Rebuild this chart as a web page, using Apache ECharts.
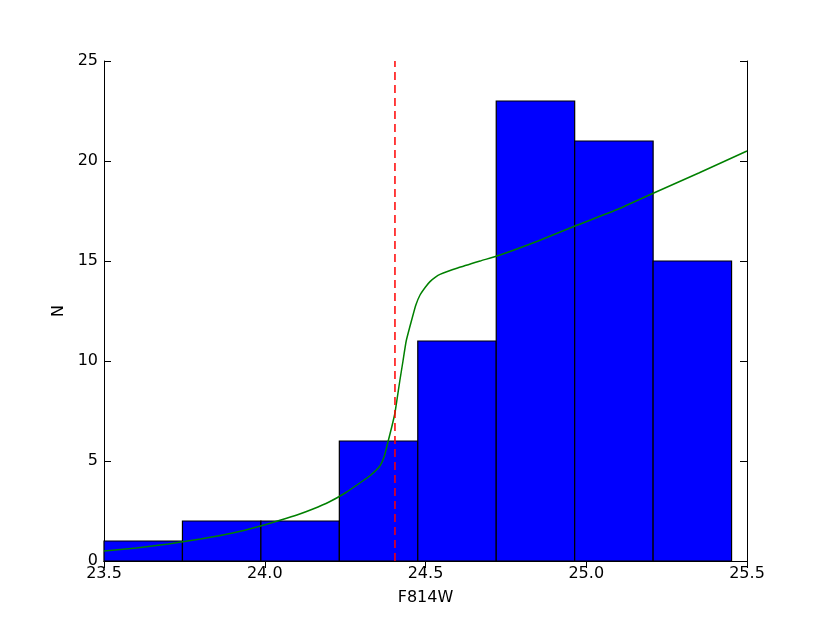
<!DOCTYPE html>
<html>
<head>
<meta charset="utf-8">
<script src="https://cdn.jsdelivr.net/npm/echarts@6/dist/echarts.min.js"></script>
<style>html,body{margin:0;padding:0;background:#fff;}#c{width:830px;height:623px;}</style>
</head>
<body>
<div id="c"></div>
<script>
var binEdges = [23.5, 23.744, 23.988, 24.232, 24.476, 24.72, 24.964, 25.208, 25.452];
var counts = [1, 2, 2, 6, 11, 23, 21, 15];
var curveX = [23.5, 23.6, 23.7, 23.8, 23.9, 23.987, 24.05, 24.1, 24.15, 24.2, 24.25, 24.3, 24.33, 24.358, 24.372, 24.384, 24.395, 24.405, 24.42, 24.43, 24.44, 24.457, 24.47, 24.483, 24.5, 24.514, 24.53, 24.545, 24.6, 24.67, 24.732, 24.85, 24.965, 25.1, 25.21, 25.35, 25.5];
var curveY = [0.5, 0.65, 0.85, 1.1, 1.4, 1.75, 2.05, 2.3, 2.6, 2.95, 3.4, 3.95, 4.3, 4.75, 5.25, 6.0, 6.7, 7.4, 9.0, 10.0, 11.0, 12.05, 12.8, 13.3, 13.7, 13.97, 14.18, 14.33, 14.65, 15.0, 15.3, 16.0, 16.75, 17.6, 18.4, 19.4, 20.5];
var cutX = 24.405;
var xTicks = [23.5, 24.0, 24.5, 25.0, 25.5];
var yTicks = [0, 5, 10, 15, 20, 25];

var histData = counts.map(function (c, i) { return [binEdges[i], binEdges[i + 1], c]; });
var curveData = curveX.map(function (x, i) { return [x, curveY[i]]; });

var font = 'DejaVu Sans';
var chart = echarts.init(document.getElementById('c'), null, { renderer: 'canvas' });
var axisCommon = {
  axisLine: { show: true, lineStyle: { color: '#000', width: 1 } },
  axisTick: { show: true, inside: true, length: 7, lineStyle: { color: '#000', width: 1 } },
  splitLine: { show: false }
};
chart.setOption({
  animation: false,
  backgroundColor: '#fff',
  grid: { left: 104, right: 83, top: 61, bottom: 62, show: false },
  xAxis: [
    Object.assign({
      type: 'value', min: 23.5, max: 25.5, interval: 0.5, position: 'bottom',
      name: 'F814W', nameLocation: 'middle', nameGap: 29,
      nameTextStyle: { fontFamily: font, fontSize: 16, color: '#000' },
      axisLabel: { fontFamily: font, fontSize: 16, color: '#000', margin: 5,
        formatter: function (v) { return v.toFixed(1); } }
    }, axisCommon),
    Object.assign({
      type: 'value', min: 23.5, max: 25.5, interval: 0.5, position: 'top',
      axisLabel: { show: false }
    }, axisCommon)
  ],
  yAxis: [
    Object.assign({
      type: 'value', min: 0, max: 25, interval: 5, position: 'left',
      name: 'N', nameLocation: 'middle', nameGap: 36, nameRotate: 90,
      nameTextStyle: { fontFamily: font, fontSize: 16, color: '#000' },
      axisLabel: { fontFamily: font, fontSize: 16, color: '#000', margin: 6 }
    }, axisCommon),
    Object.assign({
      type: 'value', min: 0, max: 25, interval: 5, position: 'right',
      axisLabel: { show: false }
    }, axisCommon)
  ],
  series: [
    {
      type: 'custom',
      xAxisIndex: 0, yAxisIndex: 0,
      data: histData,
      encode: { x: [0, 1], y: 2 },
      renderItem: function (params, api) {
        var p0 = api.coord([api.value(0), api.value(2)]);
        var p1 = api.coord([api.value(1), 0]);
        return {
          type: 'rect',
          shape: { x: p0[0], y: p0[1], width: p1[0] - p0[0], height: p1[1] - p0[1] },
          style: { fill: '#0000ff', stroke: '#000', lineWidth: 1.2 }
        };
      },
      z: 2
    },
    {
      type: 'line',
      xAxisIndex: 0, yAxisIndex: 0,
      data: curveData,
      smooth: 0.15,
      showSymbol: false,
      lineStyle: { color: '#008000', width: 1.5 },
      z: 3
    },
    {
      type: 'line',
      xAxisIndex: 0, yAxisIndex: 0,
      data: [[cutX, 0], [cutX, 25]],
      showSymbol: false,
      lineStyle: { color: '#ff0000', width: 1.5, type: [8, 5] },
      z: 4
    }
  ]
});
</script>
</body>
</html>
